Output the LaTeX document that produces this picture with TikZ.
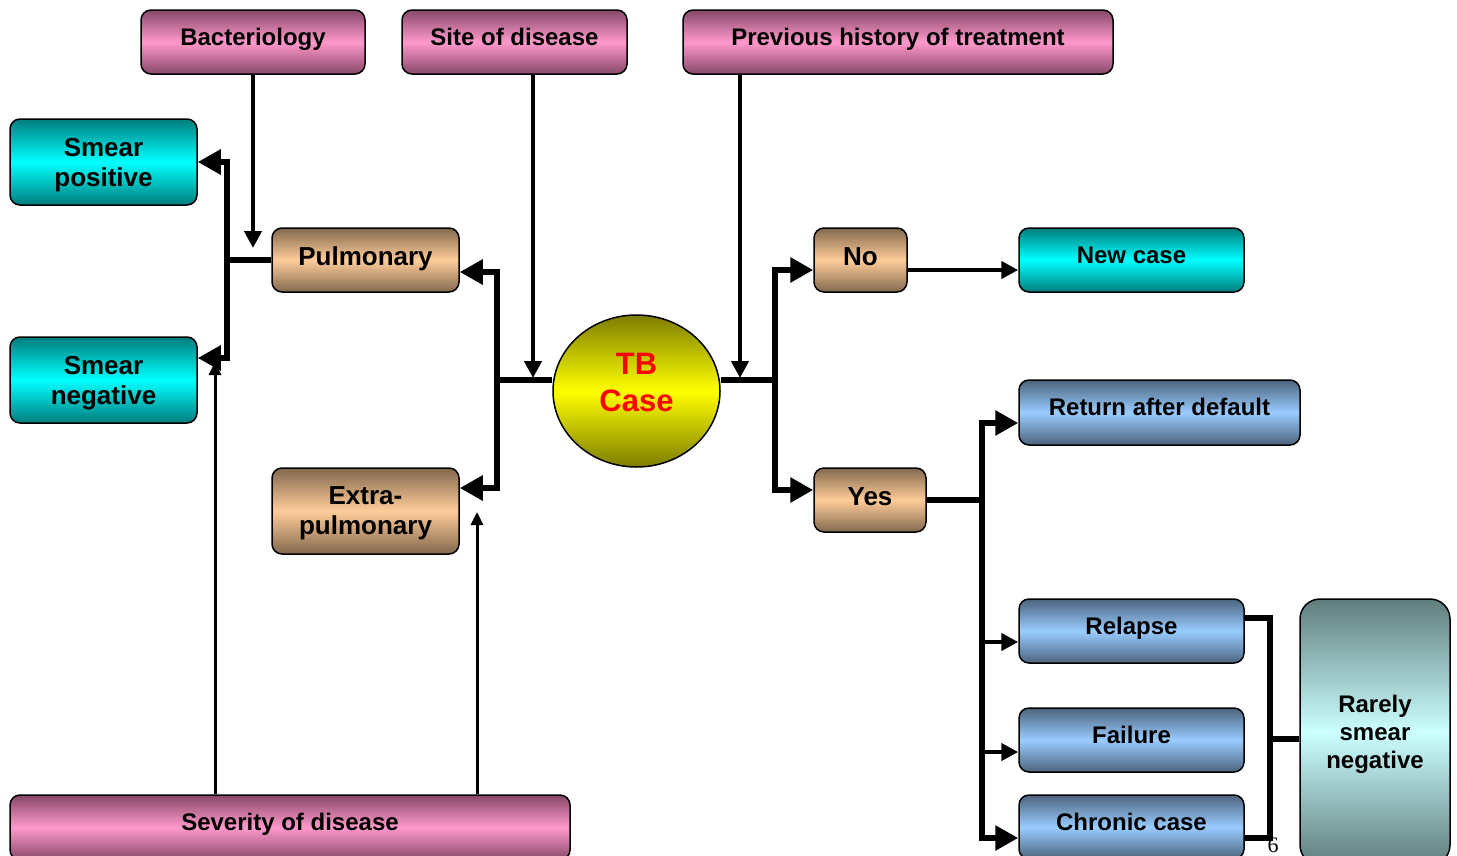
\documentclass[tikz,border=0pt]{standalone}
\usepackage{fontspec}
\setmainfont{Liberation Sans}
\newfontfamily\pagefont{Liberation Serif}
\usetikzlibrary{arrows.meta,shapes.geometric,calc}
\definecolor{pinkL}{RGB}{255,153,204}
\definecolor{pinkD}{RGB}{135,72,105}
\definecolor{cyanL}{RGB}{0,255,255}
\definecolor{cyanD}{RGB}{0,125,125}
\definecolor{tanL}{RGB}{255,204,153}
\definecolor{tanD}{RGB}{130,104,78}
\definecolor{yelL}{RGB}{255,255,0}
\definecolor{yelD}{RGB}{125,125,0}
\definecolor{bluL}{RGB}{153,204,255}
\definecolor{bluD}{RGB}{76,100,125}
\definecolor{aquaL}{RGB}{204,255,255}
\definecolor{aquaD}{RGB}{96,125,125}
\tikzset{
  box/.style={draw=black, line width=1.5pt, rounded corners=10pt, inner sep=0pt, align=center},
  fsmall/.style={font=\bfseries\fontsize{24}{28}\selectfont},
  fbig/.style={font=\bfseries\fontsize{26}{30}\selectfont},
  oneS/.style={text height=18pt, text depth=12pt},
  oneB/.style={text height=20pt, text depth=10pt},
  multi/.style={text depth=0pt},
  pinkbox/.style={box, fsmall, oneS, top color=pinkD, bottom color=pinkD, middle color=pinkL, minimum height=64pt},
  cyanbox/.style={box, top color=cyanD, bottom color=cyanD, middle color=cyanL},
  tanbox/.style={box, fbig, top color=tanD, bottom color=tanD, middle color=tanL},
  bluebox/.style={box, fsmall, oneS, top color=bluD, bottom color=bluD, middle color=bluL, minimum height=64pt},
  thickln/.style={line width=6pt},
  medln/.style={line width=4.5pt},
  thinln/.style={line width=3pt},
  tipBig/.tip={Triangle[length=23pt,width=24pt]},
  tipMed/.tip={Triangle[length=17pt,width=17pt]},
  tipSm/.tip={Triangle[length=13pt,width=12pt]},
}
\begin{document}
\begin{tikzpicture}[x=1pt,y=-1pt]
\useasboundingbox[fill=white] (0,0) rectangle (1457,855);
% page number
\node[font=\pagefont\fontsize{22}{22}\selectfont] (pg) at (1273,845) {6};
% nodes
\node[pinkbox, minimum width=224pt] (bact) at (253,42) {Bacteriology};
\node[pinkbox, minimum width=225pt] (site) at (514.5,42) {Site of disease};
\node[pinkbox, minimum width=430pt] (prev) at (898,42) {Previous history of treatment};
\node[pinkbox, minimum width=560pt, minimum height=65pt] (sev) at (290,827.5) {Severity of disease};
\node[cyanbox, fbig, multi, minimum width=187pt, minimum height=86pt] (spos) at (103.5,162) {Smear\\positive};
\node[cyanbox, fbig, multi, minimum width=187pt, minimum height=86pt] (sneg) at (103.5,380) {Smear\\negative};
\node[tanbox, oneB, minimum width=187pt, minimum height=64pt] (pul) at (365.5,260) {Pulmonary};
\node[tanbox, multi, minimum width=187pt, minimum height=86pt] (ext) at (365.5,511) {Extra-\\pulmonary};
\node[ellipse, draw=black, line width=1.5pt, minimum width=167pt, minimum height=152pt, inner sep=0pt,
  top color=yelD, bottom color=yelD, middle color=yelL, text=red, align=center, text depth=17pt,
  font=\bfseries\fontsize{31}{37}\selectfont] (tb) at (636.5,391) {TB\\Case};
\node[tanbox, oneB, minimum width=93pt, minimum height=64pt] (no) at (860.5,260) {No};
\node[tanbox, oneB, minimum width=112pt, minimum height=64pt] (yes) at (870,500) {Yes};
\node[cyanbox, fsmall, oneS, minimum width=225pt, minimum height=64pt] (new) at (1131.5,260) {New case};
\node[bluebox, minimum width=281pt, minimum height=65pt] (ret) at (1159.5,412.5) {Return after default};
\node[bluebox, minimum width=225pt] (rel) at (1131.5,631) {Relapse};
\node[bluebox, minimum width=225pt] (fail) at (1131.5,740) {Failure};
\node[bluebox, minimum width=225pt] (chr) at (1131.5,827) {Chronic case};
\node[box, fsmall, multi, rounded corners=20pt, top color=aquaD, bottom color=aquaD, middle color=aquaL,
  minimum width=150pt, minimum height=266pt] (rare) at (1375,732) {Rarely\\smear\\negative};
% junction coordinates
\coordinate (bactEnd) at (253,248);
\coordinate (siteEnd) at (533,378);
\coordinate (prevEnd) at (740,378);
\coordinate (sevL) at (215,362);
\coordinate (sevR) at (477,512);
\coordinate (jL) at (227,260);
\coordinate (jT) at (497,380);
\coordinate (jR) at (775,380);
\coordinate (jY) at (982,500);
\coordinate (jB) at (1270,739);
% top feeders
\draw[medln, -tipMed] (bact.south -| bactEnd) -- (bactEnd);
\draw[medln, -tipMed] (site.south -| siteEnd) -- (siteEnd);
\draw[medln, -tipMed] (prev.south -| prevEnd) -- (prevEnd);
% severity feeders
\draw[thinln, -tipSm] (sev.north -| sevL) -- (sevL);
\draw[thinln, -tipSm] (sev.north -| sevR) -- (sevR);
% left cluster
\draw[thickln] (pul.west) -- (jL);
\draw[thickln, tipBig-tipBig] (spos.east) -| (jL) |- ([yshift=22pt]sneg.east);
% TB left
\draw[thickln] (tb.west |- jT) -- (jT);
\draw[thickln, tipBig-tipBig] ([yshift=-12pt]pul.east) -| (jT) |- ([yshift=23pt]ext.east);
% TB right
\draw[thickln] (tb.east |- jR) -- (jR);
\draw[thickln, tipBig-tipBig] ([yshift=-10pt]no.west) -| (jR) |- ([yshift=10pt]yes.west);
\draw[medln, -tipMed] ([yshift=-10pt]no.east) -- ([yshift=-10pt]new.west);
% Yes branch
\draw[thickln] (yes.east) -- (jY);
\draw[thickln, tipBig-tipBig] ([yshift=-10.5pt]ret.west) -| (jY) |- ([yshift=-11pt]chr.west);
\coordinate (relIn) at ([yshift=-11pt]rel.west);
\coordinate (failIn) at ([yshift=-12pt]fail.west);
\draw[medln, -tipMed] (relIn -| jY) -- (relIn);
\draw[medln, -tipMed] (failIn -| jY) -- (failIn);
% bracket
\draw[thickln] ([yshift=13pt]rel.east) -| (jB) |- ([yshift=-11pt]chr.east);
\draw[thickln] (jB) -- (rare.west |- jB);
\end{tikzpicture}
\end{document}
